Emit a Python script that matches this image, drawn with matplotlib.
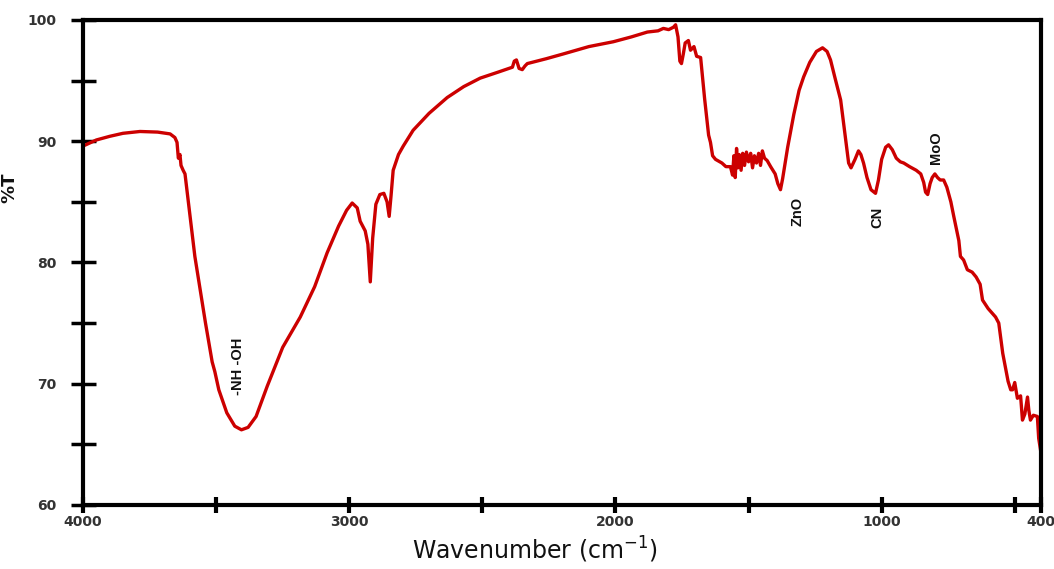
import matplotlib
matplotlib.use('Agg')
import matplotlib.pyplot as plt

# FTIR spectrum, values
wavenumber = [4000, 3950, 3900, 3850, 3786, 3720, 3673, 3655, 3647, 3642, 3636, 3632, 3624, 3617,
              3580, 3540, 3515, 3505, 3490, 3460, 3430, 3405, 3380, 3350, 3308, 3250, 3184, 3130,
              3083, 3040, 3010, 2989, 2970, 2959, 2940, 2930, 2921, 2912, 2900, 2885, 2870, 2858,
              2850, 2843, 2835, 2815, 2797, 2760, 2700, 2632, 2570, 2508, 2440, 2387, 2380, 2372,
              2362, 2350, 2340, 2331, 2260, 2195, 2100, 2008, 1940, 1880, 1840, 1820, 1800, 1782,
              1774, 1765, 1758, 1752, 1745, 1738, 1726, 1718, 1705, 1695, 1680, 1665, 1650, 1643,
              1635, 1624, 1600, 1585, 1568, 1560, 1555, 1550, 1545, 1540, 1535, 1528, 1522, 1515,
              1508, 1500, 1492, 1485, 1478, 1470, 1462, 1455, 1448, 1440, 1430, 1417, 1400, 1390,
              1380, 1372, 1353, 1330, 1310, 1293, 1270, 1245, 1222, 1205, 1192, 1175, 1154, 1140,
              1124, 1115, 1100, 1087, 1078, 1068, 1055, 1040, 1023, 1012, 1000, 985, 974, 960,
              945, 930, 917, 895, 870, 853, 842, 835, 827, 818, 810, 800, 790, 780, 767, 755,
              740, 729, 710, 704, 692, 678, 660, 645, 630, 621, 600, 572, 560, 545, 525, 515,
              508, 500, 490, 478, 471, 462, 452, 447, 441, 430, 415, 410, 400]
transmittance = [89.6, 90.1, 90.4, 90.65, 90.8, 90.75, 90.6, 90.3, 89.9, 88.6, 88.9, 88.0, 87.6, 87.3,
                 80.5, 75.0, 71.8, 71.0, 69.5, 67.6, 66.5, 66.2, 66.4, 67.3, 69.8, 73.0, 75.5, 78.0,
                 80.8, 83.0, 84.3, 84.9, 84.5, 83.4, 82.6, 81.5, 78.4, 82.0, 84.8, 85.6, 85.7, 85.0,
                 83.8, 85.5, 87.6, 88.9, 89.6, 90.9, 92.3, 93.6, 94.5, 95.2, 95.7, 96.1, 96.6, 96.7,
                 96.0, 95.9, 96.2, 96.4, 96.8, 97.2, 97.8, 98.2, 98.6, 99.0, 99.1, 99.3, 99.2, 99.4,
                 99.6, 98.6, 96.6, 96.4, 97.2, 98.1, 98.3, 97.5, 97.8, 97.0, 96.9, 93.5, 90.5, 89.9,
                 88.8, 88.5, 88.2, 87.9, 87.9, 87.2, 88.8, 87.0, 89.4, 87.8, 88.9, 87.6, 89.0, 88.0,
                 89.1, 88.3, 89.0, 87.8, 88.8, 88.2, 89.0, 88.0, 89.2, 88.6, 88.4, 87.9, 87.3, 86.5,
                 86.0, 86.9, 89.5, 92.2, 94.2, 95.3, 96.5, 97.4, 97.7, 97.4, 96.7, 95.2, 93.4, 91.0,
                 88.2, 87.8, 88.5, 89.2, 88.9, 88.2, 87.0, 86.0, 85.7, 86.8, 88.5, 89.5, 89.7, 89.3,
                 88.6, 88.3, 88.2, 87.9, 87.6, 87.3, 86.6, 85.8, 85.6, 86.5, 87.0, 87.3, 87.0, 86.8,
                 86.8, 86.2, 85.0, 83.8, 81.8, 80.5, 80.2, 79.4, 79.2, 78.8, 78.2, 76.9, 76.2, 75.5,
                 75.0, 72.5, 70.2, 69.5, 69.5, 70.1, 68.8, 69.0, 67.0, 67.5, 68.9, 67.8, 67.0, 67.4,
                 67.3, 65.5, 64.1]

# peak labels: text, wavenumber, %T
peak_labels = ['-NH -OH', 'ZnO', 'CN', 'MoO']
peak_x = [3417, 1316, 1015, 797]
peak_y = [71.4, 84.2, 83.7, 89.5]

xtick_values = [4000, 3500, 3000, 2500, 2000, 1500, 1000, 500, 400]
xtick_labels = ['4000', '', '3000', '', '2000', '', '1000', '', '400']
ytick_values = [60, 65, 70, 75, 80, 85, 90, 95, 100]
ytick_labels = ['60', '', '70', '', '80', '', '90', '', '100']

fig = plt.figure(figsize=(10.54, 5.69), dpi=100)
ax = fig.add_axes([0.0788, 0.1125, 0.9092, 0.8525])

ax.plot(wavenumber, transmittance, color='#cc0000', linewidth=2.4, solid_joinstyle='round')

ax.set_xlim(4000, 400)
ax.set_ylim(60, 100)

for label, x, y in zip(peak_labels, peak_x, peak_y):
    ax.text(x, y, label, rotation=90, ha='center', va='center', fontsize=10.5,
            fontweight='bold', family='Liberation Sans', color='#111111')

ax.set_xticks(xtick_values)
ax.set_xticklabels(xtick_labels)
ax.set_yticks(ytick_values)
ax.set_yticklabels(ytick_labels)

for side in ['left', 'right', 'top', 'bottom']:
    ax.spines[side].set_linewidth(3)
ax.tick_params(axis='x', direction='inout', length=11, width=3, pad=2,
               labelsize=10, labelcolor='#333333')
ax.tick_params(axis='y', direction='inout', length=18, width=2.5, pad=10,
               labelsize=10, labelcolor='#333333')
for lab in ax.get_xticklabels() + ax.get_yticklabels():
    lab.set_fontweight('bold')

ax.set_xlabel('Wavenumber (cm$^{-1}$)', fontsize=17, color='#111111')
ax.xaxis.set_label_coords(0.471, -0.062)
ax.set_ylabel('%T', fontsize=13, fontweight='bold', color='#111111')
ax.yaxis.set_label_coords(-0.068, 0.654)

plt.savefig('out.png', dpi=100)
